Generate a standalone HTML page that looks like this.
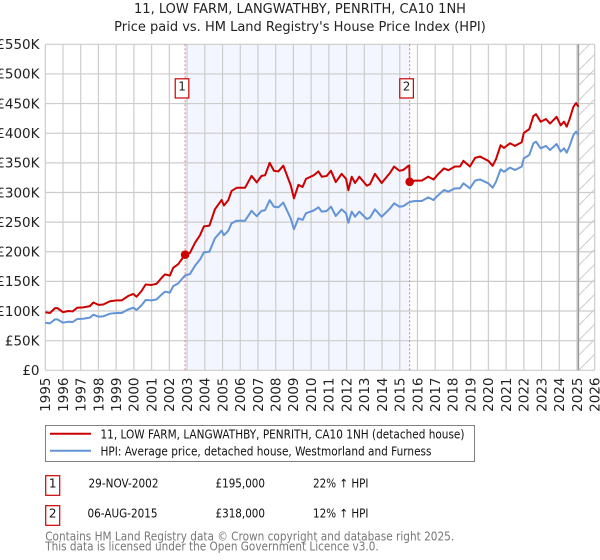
<!DOCTYPE html>
<html lang="en">
<head>
<meta charset="utf-8">
<title>11, LOW FARM, LANGWATHBY, PENRITH, CA10 1NH</title>
<style>
html,body{margin:0;padding:0;background:#fff}
#stage{display:block;width:600px;height:560px;font-family:"DejaVu Sans","Liberation Sans",sans-serif}
</style>
</head>
<body>
<svg id="stage" xmlns="http://www.w3.org/2000/svg" width="600" height="560" viewBox="0 0 600 560">
  <defs>
    <pattern id="hatch" width="15" height="15" patternUnits="userSpaceOnUse" patternTransform="translate(0 4)">
      <path d="M-2 17 L17 -2" stroke="#cccccc" stroke-width="1" fill="none"/>
    </pattern>
    <clipPath id="plot-clip"><rect x="45" y="44" width="550" height="327"/></clipPath>
  </defs>
  <text x="300" y="13" text-anchor="middle" font-size="13" fill="#222">11, LOW FARM, LANGWATHBY, PENRITH, CA10 1NH</text>
  <text x="300" y="31" text-anchor="middle" font-size="13" fill="#222">Price paid vs. HM Land Registry's House Price Index (HPI)</text>
  <g id="shade-layer"></g>
  <g id="grid-layer"></g>
  <g id="axis-layer" font-size="13.5" fill="#222"></g>
  <g id="series-layer" clip-path="url(#plot-clip)"></g>
  <g id="marker-layer"></g>

  <g>
    <rect x="45.5" y="425.5" width="429" height="36" fill="#fff" stroke="#808080" stroke-width="1"/>
    <line x1="50" y1="433.7" x2="91" y2="433.7" stroke="#cc0000" stroke-width="2"/>
    <text x="100.5" y="438.5" font-size="12" textLength="364" lengthAdjust="spacingAndGlyphs" fill="#111">11, LOW FARM, LANGWATHBY, PENRITH, CA10 1NH (detached house)</text>
    <line x1="50" y1="450.8" x2="91" y2="450.8" stroke="#6394d6" stroke-width="2"/>
    <text x="100.5" y="455.5" font-size="12" textLength="331" lengthAdjust="spacingAndGlyphs" fill="#111">HPI: Average price, detached house, Westmorland and Furness</text>
  </g>

  <g font-size="12" fill="#111">
    <rect x="45.7" y="475.7" width="14" height="19.6" fill="#fff" stroke="#cc0000" stroke-width="1.2"/>
    <text x="52.7" y="487.5" text-anchor="middle">1</text>
    <text x="88.5" y="487.5" textLength="70" lengthAdjust="spacingAndGlyphs">29-NOV-2002</text>
    <text x="215.5" y="487.5" textLength="49.5" lengthAdjust="spacingAndGlyphs">£195,000</text>
    <text x="313" y="487.5" textLength="55.5" lengthAdjust="spacingAndGlyphs">22% ↑ HPI</text>
    <rect x="45.7" y="505.7" width="14" height="19.6" fill="#fff" stroke="#cc0000" stroke-width="1.2"/>
    <text x="52.7" y="517.5" text-anchor="middle">2</text>
    <text x="87.5" y="517.5" textLength="70" lengthAdjust="spacingAndGlyphs">06-AUG-2015</text>
    <text x="215.5" y="517.5" textLength="49.5" lengthAdjust="spacingAndGlyphs">£318,000</text>
    <text x="313" y="517.5" textLength="55.5" lengthAdjust="spacingAndGlyphs">12% ↑ HPI</text>
  </g>

  <text x="45.2" y="540.5" font-size="12" fill="#777" textLength="409" lengthAdjust="spacingAndGlyphs">Contains HM Land Registry data © Crown copyright and database right 2025.</text>
  <text x="45.2" y="550.5" font-size="12" fill="#777" textLength="333.5" lengthAdjust="spacingAndGlyphs">This data is licensed under the Open Government Licence v3.0.</text>
</svg>
<script>
var xTickLabels = [1995,1996,1997,1998,1999,2000,2001,2002,2003,2004,2005,2006,2007,2008,2009,2010,2011,2012,2013,2014,2015,2016,2017,2018,2019,2020,2021,2022,2023,2024,2025,2026];
var yTickValues = [0,50,100,150,200,250,300,350,400,450,500,550];
var yTickLabels = ["£0","£50K","£100K","£150K","£200K","£250K","£300K","£350K","£400K","£450K","£500K","£550K"];
var dates = [1995.0,1995.26,1995.55,1995.68,1996.0,1996.3,1996.54,1996.8,1997.14,1997.52,1997.71,1998.0,1998.27,1998.65,1999.03,1999.31,1999.68,1999.97,2000.15,2000.44,2000.66,2001.0,2001.28,2001.57,2001.75,2002.03,2002.22,2002.5,2002.79,2002.89,2003.16,2003.45,2003.73,2003.95,2004.26,2004.57,2004.95,2005.08,2005.33,2005.51,2005.8,2006.27,2006.64,2006.93,2007.2,2007.4,2007.66,2007.9,2008.15,2008.43,2008.71,2008.85,2009.03,2009.28,2009.52,2009.71,2010.13,2010.41,2010.6,2010.88,2011.12,2011.39,2011.72,2011.97,2012.1,2012.29,2012.48,2012.72,2013.14,2013.32,2013.6,2013.98,2014.45,2014.68,2014.98,2015.2,2015.49,2015.54,2015.56,2015.86,2016.24,2016.61,2016.9,2017.18,2017.5,2017.74,2018.12,2018.4,2018.59,2018.96,2019.25,2019.53,2019.81,2020.0,2020.24,2020.43,2020.69,2020.88,2021.22,2021.5,2021.88,2022.0,2022.31,2022.54,2022.69,2022.95,2023.25,2023.48,2023.85,2024.08,2024.27,2024.42,2024.57,2024.8,2024.95,2025.08];
var hpiValues = [80.3,79.2,86,86,80.3,82,81.4,86.5,87,88.8,93.8,90.5,91,95.5,96.6,96.6,102.8,105.6,101.7,110,118.6,118,119.7,128,132.6,131,142,146.7,156.8,160,162.4,176.5,187,199,200,222.6,235.6,228,235.6,248,252.4,252.4,269,260,269,270,287,276,275,283,265,256,238,256.4,253.6,265,269.4,275,267.7,268.8,276,260.3,271.6,265,249,267.7,259,267.7,255.3,257.5,271.6,259,273,281.7,276,277,282.8,283,284,285.7,285.7,291.8,287.3,295.8,304.2,301.4,307,307,315.5,307,320,322,318,315.5,308,318,339,335,342,338,343.6,357.6,363.3,383,385.8,374.5,378.5,371.7,381.8,369,374.5,367,377.3,397,402.6,397];
var paidValues = [98,96.6,104.9,104.9,98,100,99.3,105.5,106.1,108.3,114.4,110.4,111,116.5,117.9,117.9,125.4,128.8,124.1,134.2,144.7,144,146,156.2,161.8,159.8,173.2,179,191.3,195,198,215.3,228,242.8,244,271.6,287.4,278,287.4,302.6,307.9,307.9,328,317,328,329,350,336.7,335.5,345.3,323,312,290,312.8,309.4,323,328.7,335.5,326.6,327.9,336.7,317.6,331.4,323,303.8,326.6,316,326.6,311.5,314,331.4,316,333,343.7,336.7,338,345,345.5,318,320,320,326.8,321.8,331.3,340.7,337.6,343.8,343.8,353.4,343.8,358.4,360.6,356.2,353.4,345,356.2,379.7,375.2,383,378.6,384.8,400.5,406.9,429,432,419.4,423.9,416.3,427.6,413.3,419.4,411,422.6,444.6,450.9,444.6];
var saleLabels = ["1","2"];
var saleDates = [2002.89,2015.56];
var salePrices = [195,318];

var NS = 'http://www.w3.org/2000/svg';
function xScale(year){ return 45.3 + (year - 1995) * (549.4 / 31); }
function yScale(value){ return 370.3 - value * (326 / 550); }
function make(parent, tag, attrs){
  var el = document.createElementNS(NS, tag);
  for (var k in attrs) el.setAttribute(k, attrs[k]);
  parent.appendChild(el);
  return el;
}
var shade = document.getElementById('shade-layer');
var grid = document.getElementById('grid-layer');
var axis = document.getElementById('axis-layer');
var series = document.getElementById('series-layer');
var markers = document.getElementById('marker-layer');
var lastDate = dates[dates.length - 1];

var sr = make(shade, 'rect', {x: xScale(saleDates[0]) + 0.6, y: yScale(550), width: xScale(saleDates[1]) - xScale(saleDates[0]) - 0.6, height: yScale(0) - yScale(550), fill: '#f3f6fe'});


var hr = make(shade, 'rect', {x: xScale(lastDate), y: yScale(550), width: xScale(2026) - xScale(lastDate), height: yScale(0) - yScale(550), fill: 'url(#hatch)'});



yTickValues.forEach(function(v, i){
  var y = yScale(v);
  var gl = make(grid, 'line', {x1: xScale(1995), x2: xScale(2026), y1: y, y2: y, stroke: '#cccccc', 'stroke-width': 1.2});
  
  
  var t = make(axis, 'text', {x: 39.5, y: y + 4.8, 'text-anchor': 'end'});
  
  
  t.textContent = yTickLabels[i];
});
xTickLabels.forEach(function(yr){
  var x = xScale(yr);
  var gl = make(grid, 'line', {x1: x, x2: x, y1: yScale(550), y2: yScale(0), stroke: '#cccccc', 'stroke-width': 1.2});
  
  
  var t = make(axis, 'text', {x: 0, y: 0, 'text-anchor': 'end', transform: 'translate(' + (x + 4.8) + ' 377.5) rotate(-90)'});
  
  
  t.textContent = String(yr);
});

function linePath(values){
  return values.map(function(v, i){
    return (i ? 'L' : 'M') + xScale(dates[i]).toFixed(2) + ' ' + yScale(v).toFixed(2);
  }).join(' ');
}
var endLine = make(series, 'line', {x1: xScale(lastDate), x2: xScale(lastDate), y1: yScale(550), y2: yScale(0), stroke: '#999999', 'stroke-width': 1.5});


saleDates.forEach(function(d){
  var dl = make(series, 'line', {x1: xScale(d), x2: xScale(d), y1: yScale(550), y2: yScale(0), stroke: '#ff6b7a', 'stroke-width': 1, 'stroke-dasharray': '2 2'});
  
  
});
var hpiLine = make(series, 'path', {d: linePath(hpiValues), fill: 'none', stroke: '#6394d6', 'stroke-width': 2, 'stroke-linejoin': 'round'});


var paidLine = make(series, 'path', {d: linePath(paidValues), fill: 'none', stroke: '#cc0000', 'stroke-width': 2, 'stroke-linejoin': 'round'});



saleDates.forEach(function(d, i){
  var x = xScale(d), y = yScale(salePrices[i]);
  var dot = make(markers, 'circle', {cx: x, cy: y, r: 4.3, fill: '#cc0000'});
  
  
  var box = make(markers, 'rect', {x: x - 9.9, y: 78.8, width: 13.6, height: 19.2, fill: '#fff', stroke: '#cc0000', 'stroke-width': 1.2});
  
  
  var lab = make(markers, 'text', {x: x - 3.1, y: 90.5, 'text-anchor': 'middle', 'font-size': 12, fill: '#222'});
  
  
  lab.textContent = saleLabels[i];
});
</script>
</body>
</html>
